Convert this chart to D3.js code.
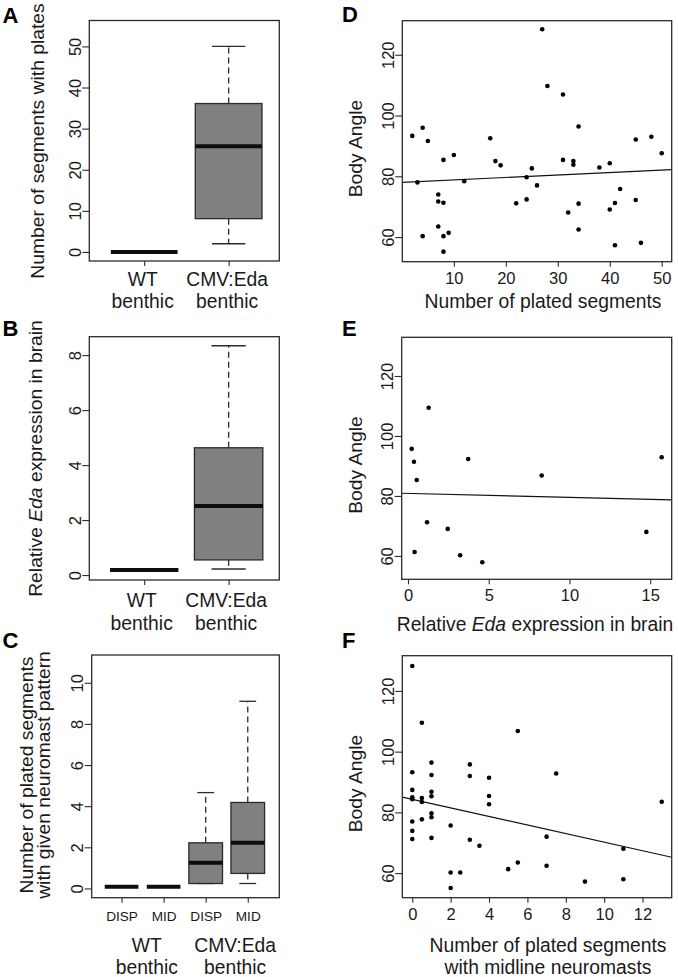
<!DOCTYPE html>
<html><head><meta charset="utf-8">
<script src="https://cdn.jsdelivr.net/npm/d3@7"></script>
<style>body{margin:0;background:#fff}</style>
</head><body>
<svg id="chart" width="678" height="977"></svg>
<script>
// ---------------- DATA ----------------
// Box plot statistics: [lower whisker, Q1, median, Q3, upper whisker]
const groupNames = [["WT", "benthic"], ["CMV:Eda", "benthic"]];
const platesStats = [[0, 0, 0, 0, 0], [2, 8.1, 25.7, 36.1, 50]];
const edaStats = [[0.18, 0.18, 0.18, 0.18, 0.18], [0.22, 0.55, 2.51, 4.63, 8.34]];
const neuroCats = ["DISP", "MID", "DISP", "MID"];
const neuroStats = [[0.08, 0.08, 0.08, 0.08, 0.08], [0.08, 0.08, 0.08, 0.08, 0.08],
                    [0.24, 0.24, 1.25, 2.22, 4.66], [0.24, 0.73, 2.22, 4.18, 9.1]];
const neuroGroupPos = [1.6, 3.7];

// Scatter D: number of plated segments vs body angle
const dX = [2,3,4,4,5,7,7,7,8,8,8,8,9,10,12,17,18,19,22,24,24,25,26,27,28,31,31,32,33,33,34,34,34,38,40,40,41,41,42,45,45,46,48,50];
const dY = [93.3,78.0,96.0,60.3,91.6,74.0,71.7,63.5,85.4,71.3,60.3,55.2,61.4,87.0,78.4,92.5,85.0,83.6,71.1,79.7,72.4,82.6,77.0,128.4,109.7,106.9,85.4,68.1,85.0,83.8,96.4,71.0,62.5,82.9,84.3,69.1,71.2,57.3,75.8,92.1,72.2,58.1,93.0,87.6];
const dFit = [78.0, 0.081]; // intercept, slope

// Scatter E: relative Eda expression vs body angle
const eX = [0.23,0.37,0.41,0.54,1.18,1.28,2.46,3.23,3.73,4.60,8.28,14.76,15.71];
const eY = [95.7,91.4,61.3,85.3,71.2,109.4,69.0,60.2,92.3,57.9,86.8,68.0,92.9];
const eFit = [80.85, -0.1316];

// Scatter F: plated segments with midline neuromasts vs body angle
const fX = [0,0,0,0,0,0,0,0,0.5,0.5,0.5,0.5,1,1,1,1,1,1,1,2,2,2,2.5,3,3,3,3.5,4,4,4,5,5.5,5.5,7,7,7.5,9,11,11,13];
const fY = [128.2,93.2,87.4,85.0,84.3,77.0,73.9,71.2,109.5,84.7,83.4,77.7,96.4,92.3,86.8,85.3,79.7,78.4,71.6,75.7,60.2,55.1,60.2,95.8,92.0,71.0,69.0,91.4,85.4,82.7,61.3,106.8,63.5,72.0,62.4,92.8,57.2,68.0,58.0,83.5];
const fFit = [84.3, -1.41];

// Tick values
const platesTicks = [0, 10, 20, 30, 40, 50];
const edaTicks = [0, 2, 4, 6, 8];
const neuroTicks = [0, 2, 4, 6, 8, 10];
const angleTicks = [60, 80, 100, 120];
const platedXTicks = [10, 20, 30, 40, 50];
const edaXTicks = [0, 5, 10, 15];
const midXTicks = [0, 2, 4, 6, 8, 10, 12];

// ---------------- DRAWING ----------------
const svg = d3.select("#chart");
const FONT = "'Liberation Sans', Arial, Helvetica, sans-serif";
const INK = "#1a1a1a";
const LINE = "#2b2b2b";
const TITLE = 19.3, TICK = 16.5;

function frame(p) {
  svg.append("rect").attr("x", p.x0).attr("y", p.y0)
    .attr("width", p.x1 - p.x0).attr("height", p.y1 - p.y0)
    .attr("fill", "none").attr("stroke", LINE).attr("stroke-width", 1.3);
}
function yAxis(p, y, ticks) {
  const g = svg.append("g").attr("transform", `translate(${p.x0},0)`)
    .call(d3.axisLeft(y).tickValues(ticks).tickSize(7).tickFormat(d3.format("d")));
  g.attr("font-family", FONT).attr("font-size", TICK);
  g.select(".domain").remove();
  g.selectAll(".tick line").attr("stroke", LINE).attr("stroke-width", 1.1);
  g.selectAll(".tick text").attr("x", 0).attr("dy", null).attr("y", -8.5)
    .attr("transform", "rotate(-90)").attr("text-anchor", "middle").attr("fill", INK);
}
function xAxis(p, x, ticks, fmt, size, off) {
  const g = svg.append("g").attr("transform", `translate(0,${p.y1})`)
    .call(d3.axisBottom(x).tickValues(ticks).tickSize(5).tickFormat(fmt));
  g.attr("font-family", FONT).attr("font-size", size);
  g.select(".domain").remove();
  g.selectAll(".tick line").attr("stroke", LINE).attr("stroke-width", 1.1);
  g.selectAll(".tick text").attr("dy", null).attr("y", off).attr("fill", INK);
}
function letter(t, x, y) {
  svg.append("text").attr("x", x).attr("y", y).text(t)
    .attr("font-family", FONT).attr("font-weight", "bold").attr("font-size", 22).attr("fill", "#000");
}
function vTitle(x, y, parts) {
  const t = svg.append("text").attr("transform", `translate(${x},${y}) rotate(-90) scale(1,0.92)`)
    .attr("text-anchor", "middle").attr("font-family", FONT).attr("font-size", TITLE).attr("fill", INK);
  parts.forEach(pt => t.append("tspan").text(pt[0]).attr("font-style", pt[1] ? "italic" : "normal"));
}
function hTitle(x, y, parts, size) {
  const t = svg.append("text").attr("x", x).attr("y", y)
    .attr("text-anchor", "middle").attr("font-family", FONT).attr("font-size", size || TITLE).attr("fill", INK);
  parts.forEach(pt => t.append("tspan").text(pt[0]).attr("font-style", pt[1] ? "italic" : "normal"));
}
function boxes(x, y, stats, bwUnits) {
  stats.forEach((s, i) => {
    const cx = x(i + 1);
    const bw = x(i + 1 + bwUnits / 2) - x(i + 1 - bwUnits / 2);
    const g = svg.append("g");
    const [lo, q1, med, q3, hi] = s;
    g.append("line").attr("x1", cx).attr("x2", cx).attr("y1", y(q3)).attr("y2", y(hi))
      .attr("stroke", LINE).attr("stroke-width", 1.3).attr("stroke-dasharray", "6,4");
    g.append("line").attr("x1", cx).attr("x2", cx).attr("y1", y(q1)).attr("y2", y(lo))
      .attr("stroke", LINE).attr("stroke-width", 1.3).attr("stroke-dasharray", "6,4");
    [lo, hi].forEach(v => g.append("line").attr("x1", cx - bw / 4).attr("x2", cx + bw / 4)
      .attr("y1", y(v)).attr("y2", y(v)).attr("stroke", LINE).attr("stroke-width", 1.3));
    g.append("rect").attr("x", cx - bw / 2).attr("y", y(q3)).attr("width", bw)
      .attr("height", Math.max(0, y(q1) - y(q3)))
      .attr("fill", "#808080").attr("stroke", LINE).attr("stroke-width", 1.3);
    g.append("line").attr("x1", cx - bw / 2).attr("x2", cx + bw / 2)
      .attr("y1", y(med)).attr("y2", y(med)).attr("stroke", "#0d0d0d").attr("stroke-width", 4);
  });
}
function scatter(p, x, y, xs, ys, fit, id) {
  svg.append("clipPath").attr("id", id).append("rect")
    .attr("x", p.x0).attr("y", p.y0).attr("width", p.x1 - p.x0).attr("height", p.y1 - p.y0);
  const xd = x.domain();
  svg.append("line").attr("clip-path", `url(#${id})`)
    .attr("x1", x(xd[0])).attr("x2", x(xd[1]))
    .attr("y1", y(fit[0] + fit[1] * xd[0])).attr("y2", y(fit[0] + fit[1] * xd[1]))
    .attr("stroke", "#111").attr("stroke-width", 1.1);
  svg.append("g").selectAll("circle").data(xs.map((v, i) => [v, ys[i]])).join("circle")
    .attr("cx", d => x(d[0])).attr("cy", d => y(d[1])).attr("r", 2.3).attr("fill", "#000");
}

// ---- Panel A ----
{
  const p = {x0: 89.3, x1: 279.3, y0: 20.5, y1: 261};
  const x = d3.scaleLinear().domain([0.35, 2.6]).range([p.x0, p.x1]);
  const y = d3.scaleLinear().domain([-2.2, 56.3]).range([p.y1, p.y0]);
  boxes(x, y, platesStats, 0.79);
  frame(p);
  yAxis(p, y, platesTicks);
  xAxis(p, x, [1, 2], () => "", TICK, 0);
  groupNames.forEach((gn, i) => {
    hTitle(x(i + 1) - 1.5, 286, [[gn[0]]]);
    hTitle(x(i + 1) - 1.5, 308, [[gn[1]]]);
  });
  vTitle(44, 141, [["Number of segments with plates"]]);
  letter("A", 2.5, 22.5);
}
// ---- Panel B ----
{
  const p = {x0: 89.3, x1: 279.3, y0: 336.7, y1: 580};
  const x = d3.scaleLinear().domain([0.35, 2.6]).range([p.x0, p.x1]);
  const y = d3.scaleLinear().domain([-0.18, 8.67]).range([p.y1, p.y0]);
  boxes(x, y, edaStats, 0.81);
  frame(p);
  yAxis(p, y, edaTicks);
  xAxis(p, x, [1, 2], () => "", TICK, 0);
  groupNames.forEach((gn, i) => {
    hTitle(x(i + 1) - 2.5, 606.7, [[gn[0]]]);
    hTitle(x(i + 1) - 2.5, 630, [[gn[1]]]);
  });
  vTitle(42, 458.5, [["Relative "], ["Eda", true], [" expression in brain"]]);
  letter("B", 2.5, 336);
}
// ---- Panel C ----
{
  const p = {x0: 91.7, x1: 279.3, y0: 655, y1: 897.7};
  const x = d3.scaleLinear().domain([0.29, 4.75]).range([p.x0, p.x1]);
  const y = d3.scaleLinear().domain([-0.45, 11.35]).range([p.y1, p.y0]);
  boxes(x, y, neuroStats, 0.8);
  frame(p);
  yAxis(p, y, neuroTicks);
  xAxis(p, x, [1, 2, 3, 4], d => neuroCats[d - 1], 13.6, 23);
  groupNames.forEach((gn, i) => {
    hTitle(x(neuroGroupPos[i]), 952, [[gn[0]]]);
    hTitle(x(neuroGroupPos[i]), 974, [[gn[1]]]);
  });
  vTitle(32.5, 775, [["Number of plated segments"]]);
  vTitle(49.5, 775, [["with given neuromast pattern"]]);
  letter("C", 2.5, 648);
}
// ---- Panel D ----
{
  const p = {x0: 402.3, x1: 671.7, y0: 20.7, y1: 261.7};
  const x = d3.scaleLinear().domain([0.08, 51.92]).range([p.x0, p.x1]);
  const y = d3.scaleLinear().domain([51.9, 131.2]).range([p.y1, p.y0]);
  scatter(p, x, y, dX, dY, dFit, "clipD");
  frame(p);
  yAxis(p, y, angleTicks);
  xAxis(p, x, platedXTicks, d3.format("d"), TICK, 22);
  hTitle(543, 308, [["Number of plated segments"]]);
  vTitle(362, 148.5, [["Body Angle"]]);
  letter("D", 342, 22);
}
// ---- Panel E ----
{
  const p = {x0: 401.7, x1: 671.7, y0: 337.3, y1: 579.3};
  const x = d3.scaleLinear().domain([-0.39, 16.33]).range([p.x0, p.x1]);
  const y = d3.scaleLinear().domain([52.2, 132.9]).range([p.y1, p.y0]);
  scatter(p, x, y, eX, eY, eFit, "clipE");
  frame(p);
  yAxis(p, y, angleTicks);
  xAxis(p, x, edaXTicks, d3.format("d"), TICK, 22);
  hTitle(535, 631, [["Relative "], ["Eda", true], [" expression in brain"]]);
  vTitle(362, 465, [["Body Angle"]]);
  letter("E", 342, 336);
}
// ---- Panel F ----
{
  const p = {x0: 402.3, x1: 671.7, y0: 655.7, y1: 897.7};
  const x = d3.scaleLinear().domain([-0.52, 13.52]).range([p.x0, p.x1]);
  const y = d3.scaleLinear().domain([51.9, 131.6]).range([p.y1, p.y0]);
  scatter(p, x, y, fX, fY, fFit, "clipF");
  frame(p);
  yAxis(p, y, angleTicks);
  xAxis(p, x, midXTicks, d3.format("d"), TICK, 22);
  hTitle(548, 951.5, [["Number of plated segments"]]);
  hTitle(548, 974, [["with midline neuromasts"]]);
  vTitle(362, 783.5, [["Body Angle"]]);
  letter("F", 342, 648);
}
</script>
</body></html>
